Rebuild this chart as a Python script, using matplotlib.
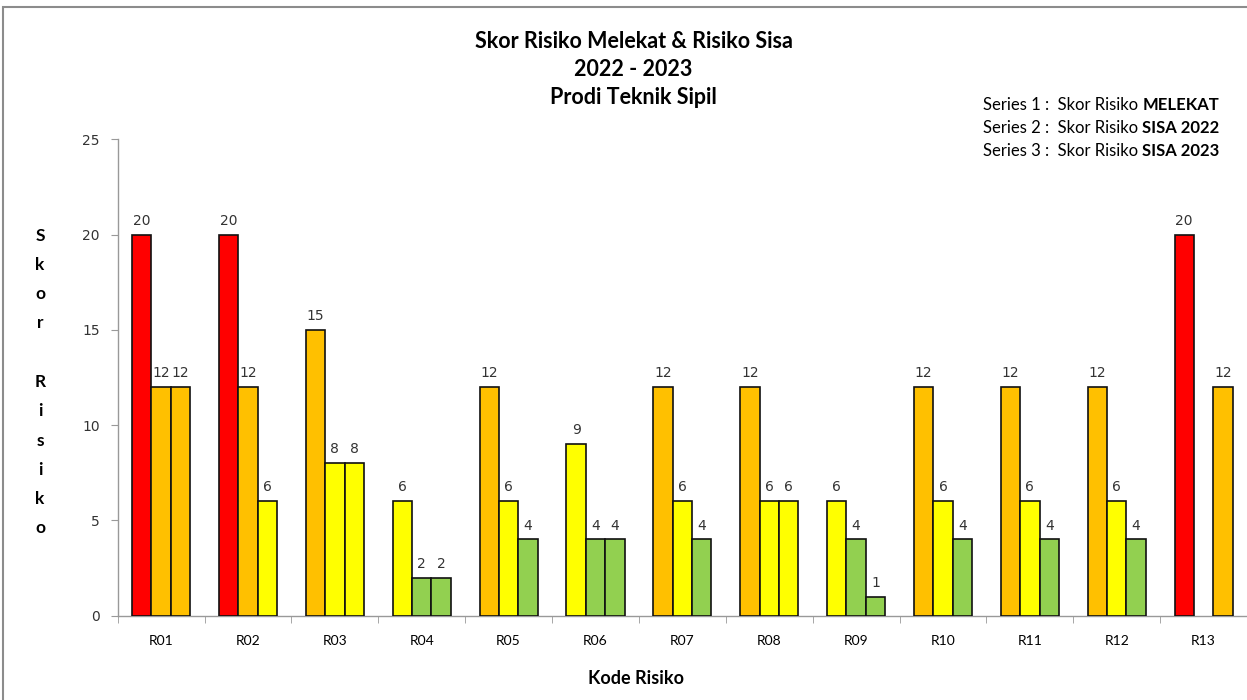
import matplotlib.pyplot as plt
import matplotlib.patches as mpatches
import numpy as np

# Risk codes and scores per series (None = no bar)
KODE = ["R01", "R02", "R03", "R04", "R05", "R06", "R07",
        "R08", "R09", "R10", "R11", "R12", "R13"]
MELEKAT = [20, 20, 15, 6, 12, 9, 12, 12, 6, 12, 12, 12, 20]
SISA_2022 = [12, 12, 8, 2, 6, 4, 6, 6, 4, 6, 6, 6, None]
SISA_2023 = [12, 6, 8, 2, 4, 4, 4, 6, 1, 4, 4, 4, 12]

LEGEND_PLAIN = ["Series 1 :  Skor Risiko ", "Series 2 :  Skor Risiko ",
                "Series 3 :  Skor Risiko "]
LEGEND_BOLD = ["MELEKAT", "SISA 2022", "SISA 2023"]

BAR_W = 0.223
TEXT_FONT = ["Lato", "DejaVu Sans"]


def score_colour(value):
    """Colour band for a risk score"""
    if value >= 16:
        return "#FF0000"
    if value >= 10:
        return "#FFC000"
    if value >= 5:
        return "#FFFF00"
    return "#92D050"


def draw_series(ax, values, offset):
    for idx, val in enumerate(values):
        if val is None:
            continue
        ax.bar(idx + offset, val, width=BAR_W, color=score_colour(val),
               edgecolor="#111111", linewidth=1.2, zorder=3)
        ax.annotate(f"{val}", xy=(idx + offset, val), xytext=(0, 5),
                    textcoords="offset points", ha="center", va="bottom",
                    fontsize=10, color="#333333", family="DejaVu Sans")


def main():
    fig = plt.figure(figsize=(12.47, 7.0), dpi=100)
    ax = fig.add_axes([0.0944, 0.1204, 0.9056, 0.6806])

    draw_series(ax, MELEKAT, -BAR_W)
    draw_series(ax, SISA_2022, 0)
    draw_series(ax, SISA_2023, BAR_W)

    ax.set_xlim(-0.5, len(KODE) - 0.5)
    ax.set_ylim(0, 25)
    ax.set_yticks(np.arange(0, 26, 5))
    ax.set_xticks(np.arange(len(KODE)))
    ax.set_xticklabels(KODE, family=TEXT_FONT, fontsize=10)
    ax.set_xticks(np.arange(-0.5, len(KODE), 1), minor=True)
    ax.tick_params(axis="x", which="major", length=0, pad=14)
    ax.tick_params(axis="x", which="minor", length=5, color="#999999",
                   direction="out")
    ax.tick_params(axis="y", length=5, color="#999999", pad=8,
                   labelsize=10, labelcolor="#333333")

    for side in ("top", "right"):
        ax.spines[side].set_visible(False)
    for side in ("left", "bottom"):
        ax.spines[side].set_color("#999999")
        ax.spines[side].set_linewidth(1.0)

    # Title block
    titles = ["Skor Risiko Melekat & Risiko Sisa", "2022 - 2023",
              "Prodi Teknik Sipil"]
    for k, line in enumerate(titles):
        fig.text(0.508, 1 - (42 + 28 * k) / 700, line, ha="center",
                 va="center", fontsize=15.5, fontweight="bold",
                 family=TEXT_FONT)

    # Series notes, plain part followed by a bold part
    for k, (plain, bold) in enumerate(zip(LEGEND_PLAIN, LEGEND_BOLD)):
        txt = fig.text(983 / 1247, 1 - (105 + 23 * k) / 700, plain,
                       ha="left", va="center", fontsize=12,
                       family=TEXT_FONT)
        fig.add_artist(plt.Annotation(
            bold, xy=(1, 0), xycoords=txt, ha="left", va="bottom",
            fontsize=12, fontweight="bold", family=TEXT_FONT))

    # Axis titles
    fig.text(636 / 1247, 1 - 678 / 700, "Kode Risiko", ha="center",
             va="center", fontsize=13, fontweight="bold", family=TEXT_FONT)
    fig.text(40 / 1247, 1 - 382 / 700, "S\nk\no\nr\n\nR\ni\ns\ni\nk\no",
             ha="center", va="center", fontsize=12.5, fontweight="bold",
             family=TEXT_FONT, linespacing=2.02)

    # Chart area outline
    fig.add_artist(mpatches.Rectangle(
        (3 / 1247, -0.05), 1.2, 1.05 - 7 / 700, transform=fig.transFigure,
        fill=False, edgecolor="#8c8c8c", linewidth=1.5))

    fig.savefig("out.png", dpi=100)


if __name__ == "__main__":
    main()
